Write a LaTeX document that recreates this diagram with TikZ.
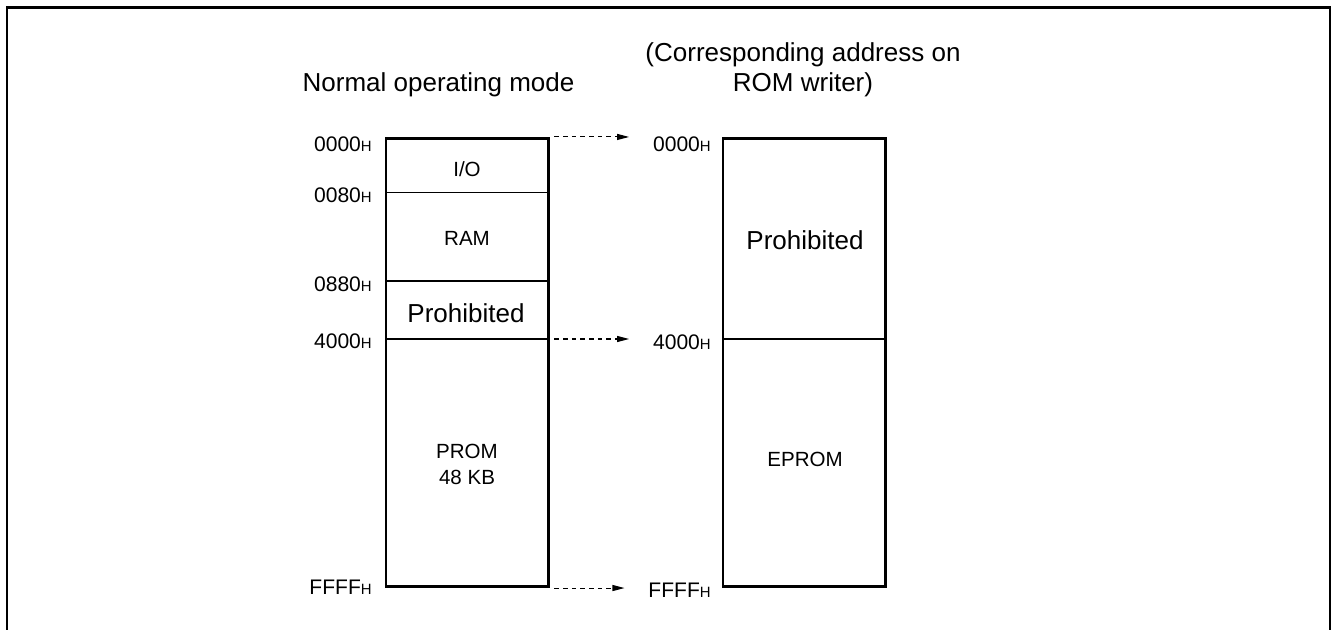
\documentclass[tikz,border=0pt]{standalone}
\usepackage{fontspec}
\setmainfont{Liberation Sans}
\usetikzlibrary{arrows.meta}
\newcommand\hsfx{{\fontsize{11.2pt}{12pt}\selectfont H}}
\begin{document}
\begin{tikzpicture}[x=0.75pt,y=-0.75pt,
  big/.style={font=\fontsize{19.5pt}{22.5pt}\selectfont, inner sep=0pt, align=center},
  small/.style={font=\fontsize{15.4pt}{19.5pt}\selectfont, inner sep=0pt, align=center},
  addr/.style={font=\fontsize{15.8pt}{18pt}\selectfont, inner sep=0pt},
  outline/.style={draw=black, line width=2pt, inner sep=0pt},
  divider/.style={draw=black, line width=1pt},
  maparrow/.style={line width=0.8pt, dash pattern=on 3.4pt off 3.1pt,
    -{Triangle[length=9pt,width=4.5pt]}, shorten <=3.3pt, shorten >=17.8pt},
  frameline/.style={line width=2pt}]
\useasboundingbox (0,0) rectangle (1337,630);
% outer frame (open at the bottom)
\draw[frameline] (7,632) -- (7,7.5) -- (1330,7.5) -- (1330,632);

% titles
\node[big, anchor=base] (tleft) at (438.5,92) {Normal operating mode};
\node[big] (tright) at (803,70) {(Corresponding address on\\ROM writer)};

% left memory map
\coordinate (d0080) at (386,192.7);
\coordinate (d0880) at (386,281);
\coordinate (d4000) at (386,339);
\draw[divider] (d0080) -- +(162.7,0);
\draw[divider] (d0880) -- +(162.7,0);
\draw[divider] (d4000) -- +(162.7,0);
\node[outline, minimum width=122pt, minimum height=336.3pt] (lbox) at (467.35,362.5) {};

\node[small] (io) at (467,169) {I/O};
\node[small] (ram) at (467,238) {RAM};
\node[big] (lproh) at (466,313) {Prohibited};
\node[small] (prom) at (467,464) {PROM\\48 KB};

% right memory map
\coordinate (e4000) at (723,339);
\draw[divider] (e4000) -- +(162.5,0);
\node[outline, minimum width=121.9pt, minimum height=336.3pt] (rbox) at (804.25,362.5) {};
\node[big] (rproh) at (805,240) {Prohibited};
\node[small] (eprom) at (805,459) {EPROM};

% address labels, left
\node[addr, anchor=east] (l0000) at (372,144.5) {0000\hsfx};
\node[addr, anchor=east] (l0080) at (372,195) {0080\hsfx};
\node[addr, anchor=east] (l0880) at (372,284) {0880\hsfx};
\node[addr, anchor=east] (l4000) at (372,341) {4000\hsfx};
\node[addr, anchor=east] (lFFFF) at (372,587) {FFFF\hsfx};

% address labels, right
\node[addr, anchor=east] (r0000) at (711,144.5) {0000\hsfx};
\node[addr, anchor=east] (r4000) at (711,342) {4000\hsfx};
\node[addr, anchor=east] (rFFFF) at (711,590) {FFFF\hsfx};

% correspondence arrows
\draw[maparrow] (lbox.north east) -- (lbox.north east -| r0000.west);
\draw[maparrow] (d4000 -| lbox.east) -- (d4000 -| r4000.west);
\draw[maparrow] (lbox.south east) -- (lbox.south east -| rFFFF.west);
\end{tikzpicture}
\end{document}
